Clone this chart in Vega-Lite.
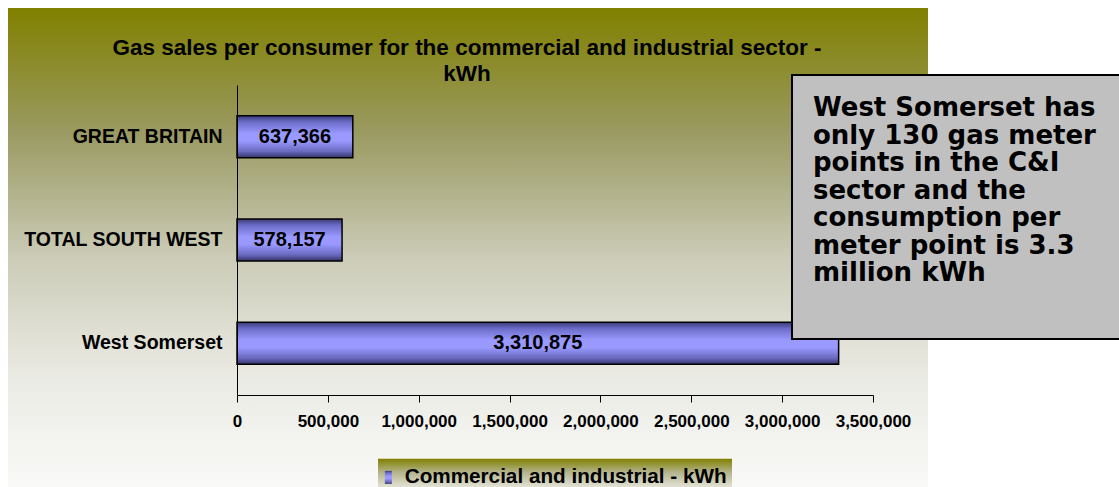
{
  "$schema": "https://vega.github.io/schema/vega-lite/v6.json",
  "width": 636,
  "height": 310,
  "autosize": {"type": "none"},
  "padding": {"left": 237, "top": 85, "right": 246, "bottom": 92},
  "background": "white",
  "title": {
    "text": ["Gas sales per consumer for the commercial and industrial sector -", "kWh"],
    "font": "Liberation Sans",
    "fontSize": 22.5,
    "fontWeight": "bold",
    "color": "black",
    "lineHeight": 26,
    "anchor": "middle",
    "frame": "group",
    "dx": -88,
    "offset": -77
  },
  "datasets": {
    "sales": [
      {"region": "GREAT BRITAIN", "kwh": 637366, "series": "Commercial and industrial - kWh"},
      {"region": "TOTAL SOUTH WEST", "kwh": 578157, "series": "Commercial and industrial - kWh"},
      {"region": "West Somerset", "kwh": 3310875, "series": "Commercial and industrial - kWh"}
    ],
    "note": [
      {"note": "West Somerset has\nonly 130 gas meter\npoints in the C&I\nsector and the\nconsumption per\nmeter point is 3.3\nmillion kWh"}
    ]
  },
  "layer": [
    {
      "data": {"values": [{"panel": "chart area"}]},
      "layer": [
        {
          "mark": {
            "type": "rect",
            "fill": {
              "gradient": "linear", "x1": 0, "y1": 0, "x2": 0, "y2": 1,
              "stops": [
                {"offset": 0, "color": "#808000"},
                {"offset": 0.25, "color": "#9a9a62"},
                {"offset": 0.5, "color": "#cbcbb7"},
                {"offset": 0.75, "color": "#ebebe5"},
                {"offset": 1, "color": "#fbfbfa"}
              ]
            }
          },
          "encoding": {
            "x": {"datum": -1260220, "type": "quantitative", "scale": {"domain": [0, 3500000], "nice": false, "zero": true},
              "axis": {
                "title": null, "values": [0, 500000, 1000000, 1500000, 2000000, 2500000, 3000000, 3500000],
                "labelExpr": "format(datum.value, ',')", "labelFont": "Liberation Sans", "labelFontSize": 17, "labelFontWeight": "bold",
                "labelColor": "black", "domainColor": "black", "tickColor": "black", "tickSize": 7, "zindex": 1,
                "labelPadding": 11, "grid": false, "labelFlush": false, "labelOverlap": false
              }},
            "x2": {"datum": 3802673},
            "y": {"datum": -24.8, "type": "quantitative", "scale": {"domain": [0, 100], "nice": false, "zero": false, "reverse": true}, "axis": null},
            "y2": {"datum": 135}
          }
        },
        {
          "mark": {
            "type": "rect",
            "fill": {
              "gradient": "linear", "x1": 0, "y1": 0, "x2": 0, "y2": 1,
              "stops": [
                {"offset": 0, "color": "#808000"},
                {"offset": 0.35, "color": "#b4b48c"},
                {"offset": 0.75, "color": "#e4e4d8"},
                {"offset": 1, "color": "#f4f4f0"}
              ]
            }
          },
          "encoding": {
            "x": {"datum": 775943, "type": "quantitative", "scale": {"domain": [0, 3500000], "nice": false, "zero": true},
              "axis": {
                "title": null, "values": [0, 500000, 1000000, 1500000, 2000000, 2500000, 3000000, 3500000],
                "labelExpr": "format(datum.value, ',')", "labelFont": "Liberation Sans", "labelFontSize": 17, "labelFontWeight": "bold",
                "labelColor": "black", "domainColor": "black", "tickColor": "black", "tickSize": 7, "zindex": 1,
                "labelPadding": 11, "grid": false, "labelFlush": false, "labelOverlap": false
              }},
            "x2": {"datum": 2724057},
            "y": {"datum": 120.6, "type": "quantitative", "scale": {"domain": [0, 100], "nice": false, "zero": false, "reverse": true}, "axis": null},
            "y2": {"datum": 133}
          }
        }
      ]
    },
    {
      "data": {"name": "sales"},
      "encoding": {
        "y": {
          "field": "region", "type": "nominal", "sort": null,
          "scale": {"paddingInner": 0.594, "paddingOuter": 0.297},
          "axis": {
            "title": null, "ticks": false, "tickSize": 0, "labelPadding": 15, "zindex": 1,
            "labelFont": "Liberation Sans", "labelFontSize": 19.5, "labelFontWeight": "bold",
            "labelColor": "black", "domainColor": "black", "labelLimit": 0
          }
        }
      },
      "layer": [
        {
          "mark": {
            "type": "bar", "stroke": "black", "strokeWidth": 1.5,
            "fill": {
              "gradient": "linear", "x1": 0, "y1": 0, "x2": 0, "y2": 1,
              "stops": [
                {"offset": 0, "color": "#3a3a78"},
                {"offset": 0.15, "color": "#6c6cc8"},
                {"offset": 0.42, "color": "#9999ff"},
                {"offset": 0.6, "color": "#9999ff"},
                {"offset": 0.85, "color": "#6a6ac0"},
                {"offset": 1, "color": "#33336a"}
              ]
            }
          },
          "encoding": {
            "x": {
              "field": "kwh", "type": "quantitative",
              "scale": {"domain": [0, 3500000], "nice": false, "zero": true},
              "axis": {
                "title": null, "values": [0, 500000, 1000000, 1500000, 2000000, 2500000, 3000000, 3500000],
                "labelExpr": "format(datum.value, ',')", "labelFont": "Liberation Sans", "labelFontSize": 17, "labelFontWeight": "bold",
                "labelColor": "black", "domainColor": "black", "tickColor": "black", "tickSize": 7, "zindex": 1,
                "labelPadding": 11, "grid": false, "labelFlush": false, "labelOverlap": false
              }
            },
            "opacity": {
              "field": "series", "type": "ordinal",
              "scale": {"range": [1]},
              "legend": {
                "title": null, "orient": "none", "legendX": 133, "legendY": 374,
                "direction": "vertical", "padding": 8,
                "fillColor": null,
                "labelFont": "Liberation Sans", "labelFontSize": 20.7, "labelFontWeight": "bold",
                "labelColor": "black", "labelLimit": 0, "labelOffset": 6,
                "symbolType": "M-0.54,-1H0.54V1H-0.54Z", "symbolSize": 169,
                "symbolFillColor": "#9999ff",
                "symbolStrokeColor": "black", "symbolStrokeWidth": 1
              }
            }
          }
        },
        {
          "mark": {"type": "text", "font": "Liberation Sans", "fontSize": 20, "fontWeight": "bold", "color": "black", "align": "center", "baseline": "middle"},
          "encoding": {
            "x": {"field": "kwh", "type": "quantitative", "stack": "zero", "bandPosition": 0.5, "scale": {"domain": [0, 3500000], "nice": false, "zero": true},
              "axis": {
                "title": null, "values": [0, 500000, 1000000, 1500000, 2000000, 2500000, 3000000, 3500000],
                "labelExpr": "format(datum.value, ',')", "labelFont": "Liberation Sans", "labelFontSize": 17, "labelFontWeight": "bold",
                "labelColor": "black", "domainColor": "black", "tickColor": "black", "tickSize": 7, "zindex": 1,
                "labelPadding": 11, "grid": false, "labelFlush": false, "labelOverlap": false
              }},
            "text": {"field": "kwh", "type": "quantitative", "format": ","}
          }
        }
      ]
    },
    {
      "data": {"name": "note"},
      "layer": [
        {
          "mark": {"type": "rect", "fill": "#c0c0c0", "stroke": "black", "strokeWidth": 2},
          "encoding": {
            "x": {"datum": 3054245, "type": "quantitative", "scale": {"domain": [0, 3500000], "nice": false, "zero": true},
              "axis": {
                "title": null, "values": [0, 500000, 1000000, 1500000, 2000000, 2500000, 3000000, 3500000],
                "labelExpr": "format(datum.value, ',')", "labelFont": "Liberation Sans", "labelFontSize": 17, "labelFontWeight": "bold",
                "labelColor": "black", "domainColor": "black", "tickColor": "black", "tickSize": 7, "zindex": 1,
                "labelPadding": 11, "grid": false, "labelFlush": false, "labelOverlap": false
              }},
            "x2": {"datum": 4886800},
            "y": {"datum": -3.2, "type": "quantitative", "scale": {"domain": [0, 100], "nice": false, "zero": false, "reverse": true}, "axis": null},
            "y2": {"datum": 81.9}
          }
        },
        {
          "mark": {"type": "text", "align": "left", "baseline": "middle", "font": "DejaVu Sans", "fontSize": 26, "fontWeight": "bold", "lineHeight": 27.5, "lineBreak": "\n", "color": "black"},
          "encoding": {
            "x": {"datum": 3169800, "type": "quantitative", "scale": {"domain": [0, 3500000], "nice": false, "zero": true},
              "axis": {
                "title": null, "values": [0, 500000, 1000000, 1500000, 2000000, 2500000, 3000000, 3500000],
                "labelExpr": "format(datum.value, ',')", "labelFont": "Liberation Sans", "labelFontSize": 17, "labelFontWeight": "bold",
                "labelColor": "black", "domainColor": "black", "tickColor": "black", "tickSize": 7, "zindex": 1,
                "labelPadding": 11, "grid": false, "labelFlush": false, "labelOverlap": false
              }},
            "y": {"datum": 7.42, "type": "quantitative", "scale": {"domain": [0, 100], "nice": false, "zero": false, "reverse": true}, "axis": null},
            "text": {"field": "note"}
          }
        }
      ]
    }
  ],
  "resolve": {"scale": {"y": "independent"}},
  "config": {"view": {"stroke": null}}
}
